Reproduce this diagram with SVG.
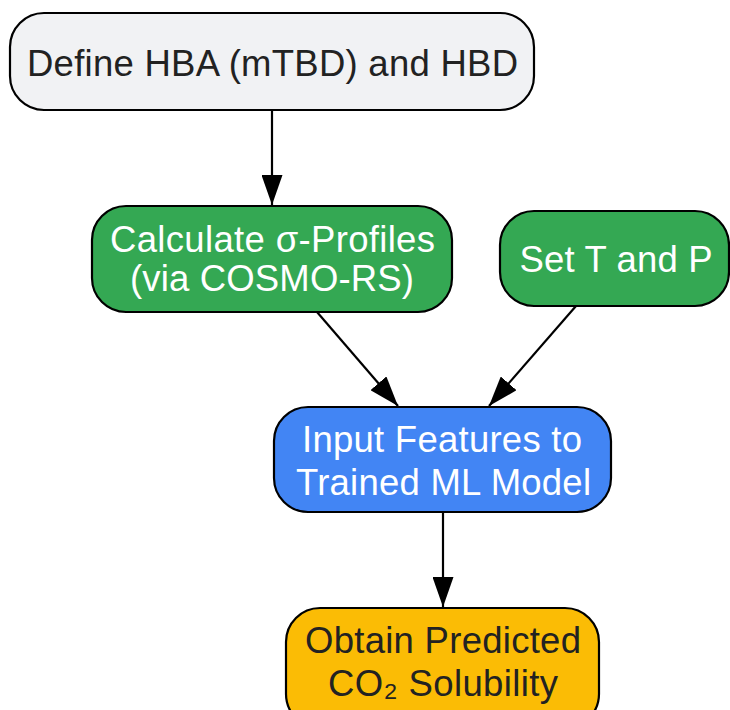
<svg xmlns="http://www.w3.org/2000/svg" width="730" height="710" viewBox="0 0 730 710">
  <style>
    .box { stroke: #000; stroke-width: 2.2; }
    .t { font-family: "Liberation Sans", Arial, sans-serif; font-size: 36.5px; text-anchor: middle; }
    .dark { fill: #222222; }
    .light { fill: #ffffff; }
    .edge { stroke: #000; stroke-width: 2.2; fill: none; marker-end: url(#arrow); }
  </style>
  <defs>
    <marker id="arrow" viewBox="0 0 30 21" refX="30" refY="10.5" markerWidth="30" markerHeight="21" markerUnits="userSpaceOnUse" orient="auto">
      <path d="M0,0 L30,10.5 L0,21 z" fill="#000"/>
    </marker>
  </defs>
  <rect width="730" height="710" fill="#ffffff"/>
  <g id="connectors">
    <line class="edge" x1="272" y1="110" x2="272" y2="205"/>
    <line class="edge" x1="317" y1="312" x2="398" y2="406"/>
    <line class="edge" x1="576" y1="306" x2="489" y2="406"/>
    <line class="edge" x1="443" y1="512" x2="443" y2="607"/>
  </g>
  <g id="node-define">
    <rect class="box" x="10" y="13" width="524" height="97" rx="34" fill="#f1f2f4"/>
    <text class="t dark" x="272.5" y="76" textLength="491" lengthAdjust="spacing">Define HBA (mTBD) and HBD</text>
  </g>
  <g id="node-sigma">
    <rect class="box" x="92" y="206" width="360" height="106" rx="34" fill="#34a853"/>
    <text class="t light" x="272.5" y="252" textLength="325" lengthAdjust="spacing">Calculate σ-Profiles</text>
    <text class="t light" x="272" y="291" textLength="284" lengthAdjust="spacing">(via COSMO-RS)</text>
  </g>
  <g id="node-tp">
    <rect class="box" x="500" y="211" width="229" height="95" rx="34" fill="#34a853"/>
    <text class="t light" x="616" y="272" textLength="193" lengthAdjust="spacing">Set T and P</text>
  </g>
  <g id="node-ml">
    <rect class="box" x="274" y="407" width="337" height="105" rx="34" fill="#4285f4"/>
    <text class="t light" x="442" y="452" textLength="280" lengthAdjust="spacing">Input Features to</text>
    <text class="t light" x="443.5" y="495" textLength="295" lengthAdjust="spacing">Trained ML Model</text>
  </g>
  <g id="node-result">
    <rect class="box" x="286" y="608" width="313" height="120" rx="34" fill="#fbbc05"/>
    <text class="t dark" x="443" y="653" textLength="276" lengthAdjust="spacing">Obtain Predicted</text>
    <text class="t dark" x="443" y="696" textLength="230" lengthAdjust="spacing">CO₂ Solubility</text>
  </g>
</svg>
